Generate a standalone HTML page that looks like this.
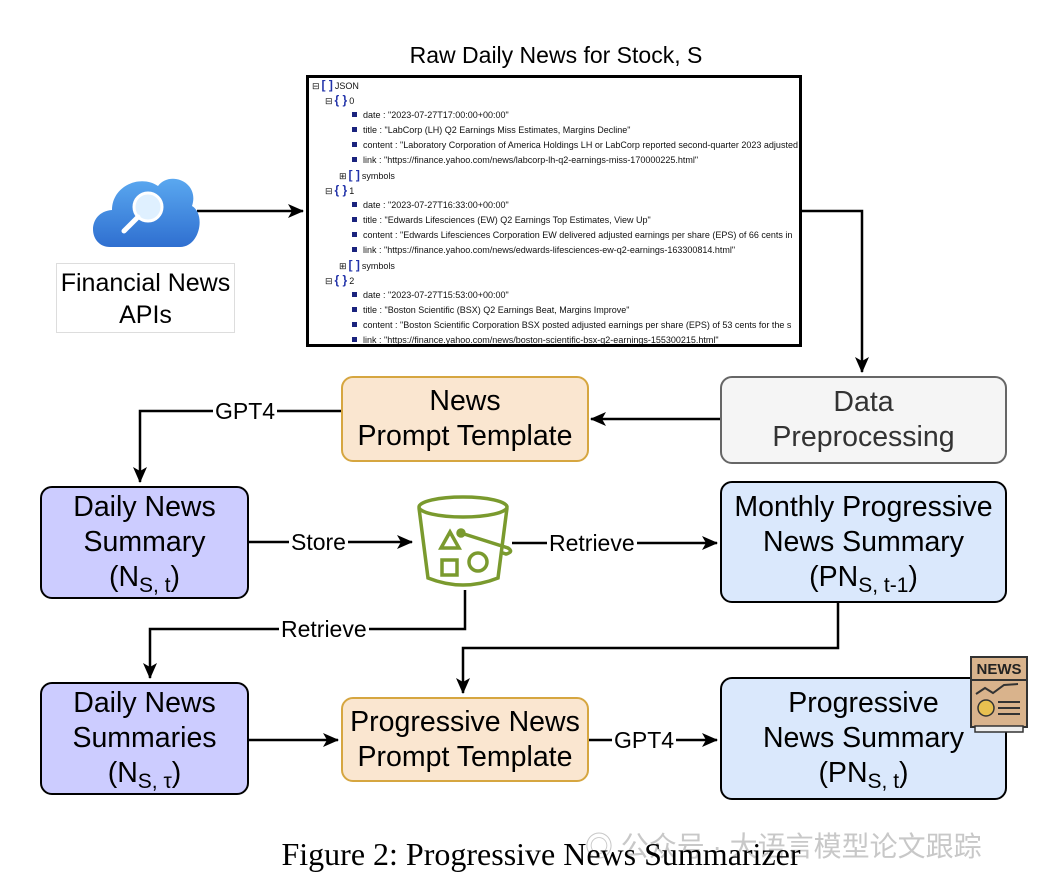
<!DOCTYPE html>
<html><head><meta charset="utf-8"><style>
body{margin:0;background:#fff;width:1042px;height:886px;position:relative;overflow:hidden;font-family:"Liberation Sans",sans-serif}
.b{position:absolute;box-sizing:border-box;display:flex;align-items:center;justify-content:center;text-align:center;font-size:28.5px;line-height:35px;border-radius:12px;border:2.5px solid #000}
.b>div{display:block;text-align:center;white-space:nowrap}
sub{font-size:21px;line-height:0;vertical-align:-6px}
.j{position:absolute;font-size:9px;line-height:15px;white-space:nowrap;color:#111}
.sq{display:inline-block;width:5px;height:5px;background:#1a237e;margin-right:6px;vertical-align:1px}
.br{color:#2233aa;font-weight:bold;font-size:12px;margin:0 2px}
.lbl{position:absolute;background:#fff;font-size:23px;line-height:26px;padding:0 2px}
</style></head><body>
<div style="position:absolute;left:0;width:1112px;top:42px;text-align:center;font-size:23px">Raw Daily News for Stock, S</div>
<div style="position:absolute;left:306px;top:75px;width:496px;height:272px;border:3px solid #000;box-sizing:border-box;overflow:hidden">
<div class="j" style="left:3px;top:0">⊟<span class="br">[ ]</span>JSON</div>
<div class="j" style="left:16px;top:15px">⊟<span class="br">{ }</span>0</div>
<div class="j" style="left:43px;top:30px"><span class="sq"></span>date : "2023-07-27T17:00:00+00:00"</div>
<div class="j" style="left:43px;top:45px"><span class="sq"></span>title : "LabCorp (LH) Q2 Earnings Miss Estimates, Margins Decline"</div>
<div class="j" style="left:43px;top:60px"><span class="sq"></span>content : "Laboratory Corporation of America Holdings LH or LabCorp reported second-quarter 2023 adjusted</div>
<div class="j" style="left:43px;top:75px"><span class="sq"></span>link : "https://finance.yahoo.com/news/labcorp-lh-q2-earnings-miss-170000225.html"</div>
<div class="j" style="left:30px;top:90px">⊞<span class="br">[ ]</span>symbols</div>
<div class="j" style="left:16px;top:105px">⊟<span class="br">{ }</span>1</div>
<div class="j" style="left:43px;top:120px"><span class="sq"></span>date : "2023-07-27T16:33:00+00:00"</div>
<div class="j" style="left:43px;top:135px"><span class="sq"></span>title : "Edwards Lifesciences (EW) Q2 Earnings Top Estimates, View Up"</div>
<div class="j" style="left:43px;top:150px"><span class="sq"></span>content : "Edwards Lifesciences Corporation EW delivered adjusted earnings per share (EPS) of 66 cents in</div>
<div class="j" style="left:43px;top:165px"><span class="sq"></span>link : "https://finance.yahoo.com/news/edwards-lifesciences-ew-q2-earnings-163300814.html"</div>
<div class="j" style="left:30px;top:180px">⊞<span class="br">[ ]</span>symbols</div>
<div class="j" style="left:16px;top:195px">⊟<span class="br">{ }</span>2</div>
<div class="j" style="left:43px;top:210px"><span class="sq"></span>date : "2023-07-27T15:53:00+00:00"</div>
<div class="j" style="left:43px;top:225px"><span class="sq"></span>title : "Boston Scientific (BSX) Q2 Earnings Beat, Margins Improve"</div>
<div class="j" style="left:43px;top:240px"><span class="sq"></span>content : "Boston Scientific Corporation BSX posted adjusted earnings per share (EPS) of 53 cents for the s</div>
<div class="j" style="left:43px;top:255px"><span class="sq"></span>link : "https://finance.yahoo.com/news/boston-scientific-bsx-q2-earnings-155300215.html"</div>
</div>

<svg style="position:absolute;left:0;top:0" width="1042" height="886">
<defs>
<marker id="a2" markerWidth="16" markerHeight="14" refX="15" refY="7" orient="auto" markerUnits="userSpaceOnUse"><path d="M0,0 L16,7 L0,14 L4,7 Z" fill="#000"/></marker>
<linearGradient id="cg" x1="0" y1="0" x2="0" y2="1"><stop offset="0" stop-color="#5aa8f0"/><stop offset="1" stop-color="#2f6fd0"/></linearGradient></defs>
<g stroke="#000" stroke-width="2.5" fill="none">
<path d="M197,211 H303" marker-end="url(#a2)"/>
<path d="M802,211 H862 V372" marker-end="url(#a2)"/>
<path d="M720,419 H591" marker-end="url(#a2)"/>
<path d="M341,411 H140 V482" marker-end="url(#a2)"/>
<path d="M249,542 H412" marker-end="url(#a2)"/>
<path d="M512,543 H717" marker-end="url(#a2)"/>
<path d="M465,590 V629 H150 V678" marker-end="url(#a2)"/>
<path d="M838,603 V648 H463 V693" marker-end="url(#a2)"/>
<path d="M249,740 H338" marker-end="url(#a2)"/>
<path d="M588,740 H717" marker-end="url(#a2)"/>
</g>
<path d="M110,247 C88,247 86,212 112,210 C112,186 140,174 158,186 C170,170 200,182 192,206 C206,214 200,247 180,247 Z" fill="url(#cg)"/>
<circle cx="148" cy="207" r="14" fill="#dff0ff" stroke="#fff" stroke-width="3"/>
<path d="M138,217 L124,231" stroke="#fff" stroke-width="5" stroke-linecap="round"/>
<g stroke="#7a9a2e" stroke-width="3.5" fill="none">
<ellipse cx="463" cy="507" rx="44" ry="10"/>
<path d="M419,508 L428,578 Q463,592 498,578 L507,508"/>
<path d="M441,548 L450,532 L459,548 Z"/>
<rect x="442" y="560" width="15" height="15"/>
<circle cx="478" cy="562" r="9"/>
<circle cx="461" cy="533" r="3" fill="#7a9a2e"/>
<path d="M461,533 L508,548 Q514,552 506,554 L500,552"/>
</g>
</svg>

<div style="position:absolute;left:56px;top:263px;width:179px;height:70px;border:1px solid #ddd;box-sizing:border-box;font-size:25px;line-height:32px;text-align:center;padding-top:3px">Financial News<br>APIs</div>

<div class="b" style="left:720px;top:376px;width:287px;height:88px;background:#f5f5f5;border-color:#666;color:#333"><div>Data<br>Preprocessing</div></div>
<div class="b" style="left:341px;top:376px;width:248px;height:86px;background:#fae6d0;border-color:#d6a640"><div>News<br>Prompt Template</div></div>
<div class="b" style="left:40px;top:486px;width:209px;height:113px;background:#ccccff"><div>Daily News<br>Summary<br>(N<sub>S, t</sub>)</div></div>
<div class="b" style="left:720px;top:481px;width:287px;height:122px;background:#dae8fc"><div>Monthly Progressive<br>News Summary<br>(PN<sub>S, t-1</sub>)</div></div>
<div class="b" style="left:40px;top:682px;width:209px;height:113px;background:#ccccff"><div>Daily News<br>Summaries<br>(N<sub>S, τ</sub>)</div></div>
<div class="b" style="left:341px;top:697px;width:248px;height:85px;background:#fae6d0;border-color:#d6a640"><div>Progressive News<br>Prompt Template</div></div>
<div class="b" style="left:720px;top:677px;width:287px;height:123px;background:#dae8fc"><div>Progressive<br>News Summary<br>(PN<sub>S, t</sub>)</div></div>

<svg style="position:absolute;left:965px;top:652px" width="70" height="85">
<rect x="6" y="5" width="56" height="70" fill="#d9b38c" stroke="#333" stroke-width="2"/>
<rect x="10" y="74" width="48" height="6" fill="#eee" stroke="#333" stroke-width="1.5"/>
<text x="34" y="22" font-family="Liberation Sans" font-weight="bold" font-size="15" text-anchor="middle" fill="#222">NEWS</text>
<line x1="6" y1="28" x2="62" y2="28" stroke="#333" stroke-width="2"/>
<path d="M11,42 L20,36 L28,41 L39,33 L53,32" stroke="#333" stroke-width="2" fill="none"/>
<circle cx="21" cy="56" r="8" fill="#e8c050" stroke="#333" stroke-width="1.5"/>
<g stroke="#333" stroke-width="2"><line x1="33" y1="50" x2="55" y2="50"/><line x1="33" y1="56" x2="55" y2="56"/><line x1="33" y1="62" x2="55" y2="62"/></g>
</svg>

<div class="lbl" style="left:213px;top:398px">GPT4</div>
<div class="lbl" style="left:289px;top:529px">Store</div>
<div class="lbl" style="left:547px;top:530px">Retrieve</div>
<div class="lbl" style="left:279px;top:616px">Retrieve</div>
<div class="lbl" style="left:612px;top:727px">GPT4</div>

<div style="position:absolute;left:585px;top:825px;font-family:'Liberation Sans','Noto Sans CJK SC',sans-serif;font-size:28px;color:#c8c8c8;white-space:nowrap">◎ 公众号 · 大语言模型论文跟踪</div>
<div style="position:absolute;left:0;width:1082px;top:836px;text-align:center;font-family:'Liberation Serif',serif;font-size:32px;white-space:nowrap">Figure 2: Progressive News Summarizer</div>
</body></html>
